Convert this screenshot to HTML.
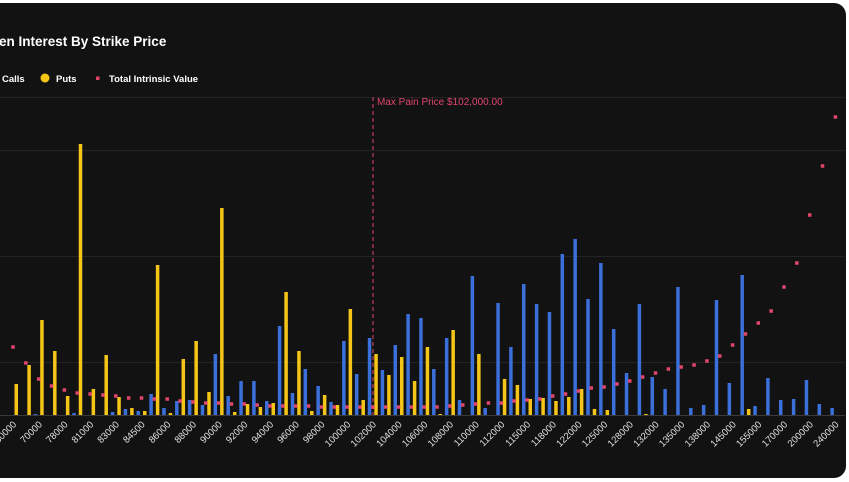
<!DOCTYPE html>
<html><head><meta charset="utf-8"><style>
html,body{margin:0;padding:0;background:#fff;width:849px;height:482px;overflow:hidden}
svg{display:block;font-family:"Liberation Sans",sans-serif}
</style></head><body>
<svg id="chart" width="849" height="482">
<rect x="-14" y="3" width="860" height="475" rx="12" fill="#121212"/>
<text x="-1" y="46" fill="#fff" font-size="13.5" font-weight="bold">en Interest By Strike Price</text>
<g>
<g><text x="2" y="82" fill="#fff" font-size="9.5" font-weight="bold">Calls</text></g>
<g><circle cx="45" cy="78" r="4.5" fill="#f5c518"/><text x="56" y="82" fill="#fff" font-size="9.5" font-weight="bold">Puts</text></g>
<g><rect x="96" y="76.5" width="3.5" height="3.5" fill="#e0456b"/><text x="109" y="82" fill="#fff" font-size="9.5" font-weight="bold">Total Intrinsic Value</text></g>
</g>
<g id="grid"></g>
<g id="bars"></g>
<g id="points"></g>
<g id="xlabels"></g>
<line x1="373" y1="97" x2="373" y2="415" stroke="#e0456b" stroke-width="1" stroke-dasharray="4,3"/>
<text x="377" y="105" fill="#e0456b" font-size="10">Max Pain Price $102,000.00</text>
</svg>
<script>
const strikes=[60000,65000,70000,75000,78000,80000,81000,82000,83000,84000,84500,85000,86000,87000,88000,89000,90000,91000,92000,93000,94000,95000,96000,97000,98000,99000,100000,101000,102000,103000,104000,105000,106000,107000,108000,109000,110000,111000,112000,114000,115000,116000,118000,120000,122000,124000,125000,126000,128000,130000,132000,134000,135000,136000,138000,140000,145000,150000,155000,160000,170000,180000,200000,220000,240000];
const calls=[0,0,10,0,0,20,0,0,30,60,40,210,70,140,150,100,610,190,340,340,140,890,220,460,290,130,740,410,770,450,700,1010,970,460,770,150,1390,70,1120,680,1310,1110,1030,1610,1760,1160,1520,860,420,1110,380,260,1280,70,100,1150,320,1400,90,370,150,160,350,110,70];
const puts=[310,500,950,640,190,2710,260,600,180,70,40,1500,20,560,740,230,2070,30,110,80,120,1230,640,40,200,100,1060,150,610,400,580,340,680,10,850,0,610,0,360,300,160,170,140,180,260,60,50,0,0,10,0,0,0,0,0,0,0,60,0,0,0,0,0,0,0];
const intrinsic=[680,520,360,290,250,220,210,200,190,170,170,160,160,140,130,120,120,110,110,100,90,90,90,90,80,80,80,80,80,80,80,80,80,80,90,100,110,120,120,140,150,160,190,210,240,270,280,310,340,380,420,460,480,500,540,590,700,810,920,1040,1280,1520,2000,2490,2980];
const gridLevels=[530,1590,2650,3180];
const NS='http://www.w3.org/2000/svg';
const x0=13,step=12.85,base=415;
const xs=i=>x0+i*step;
const yOI=v=>base-v/10;
const yIV=v=>base-v/10;
function mk(tag,attrs,parent){const e=document.createElementNS(NS,tag);for(const k in attrs)e.setAttribute(k,attrs[k]);parent.appendChild(e);return e;}
const grid=document.getElementById('grid');
gridLevels.forEach(g=>{const l=mk('line',{x1:0,x2:845,y1:yOI(g)+0.5,y2:yOI(g)+0.5,stroke:'#232323','stroke-width':1},grid);

});
const bl=mk('line',{x1:0,x2:845,y1:base+0.5,y2:base+0.5,stroke:'#3a3a3a','stroke-width':1},grid);


const bars=document.getElementById('bars'),pts=document.getElementById('points'),xl=document.getElementById('xlabels');
strikes.forEach((s,i)=>{const c=xs(i);
if(calls[i]>0){const r=mk('rect',{x:c-5,y:yOI(calls[i]),width:3.5,height:base-yOI(calls[i]),fill:'#3b6fd9'},bars);

}
if(puts[i]>0){const r=mk('rect',{x:c+1.5,y:yOI(puts[i]),width:3.5,height:base-yOI(puts[i]),fill:'#f5c518'},bars);

}
const p=mk('rect',{x:c-1.75,y:yIV(intrinsic[i])-1.75,width:3.5,height:3.5,fill:'#e0456b'},pts);


if(i%2===0){const t=mk('text',{x:0,y:0,fill:'#e0e0e0','font-size':'9.5','text-anchor':'end',transform:'translate('+(c+4)+',425) rotate(-45)'},xl);
t.textContent=s;

}
});
</script>
</body></html>
